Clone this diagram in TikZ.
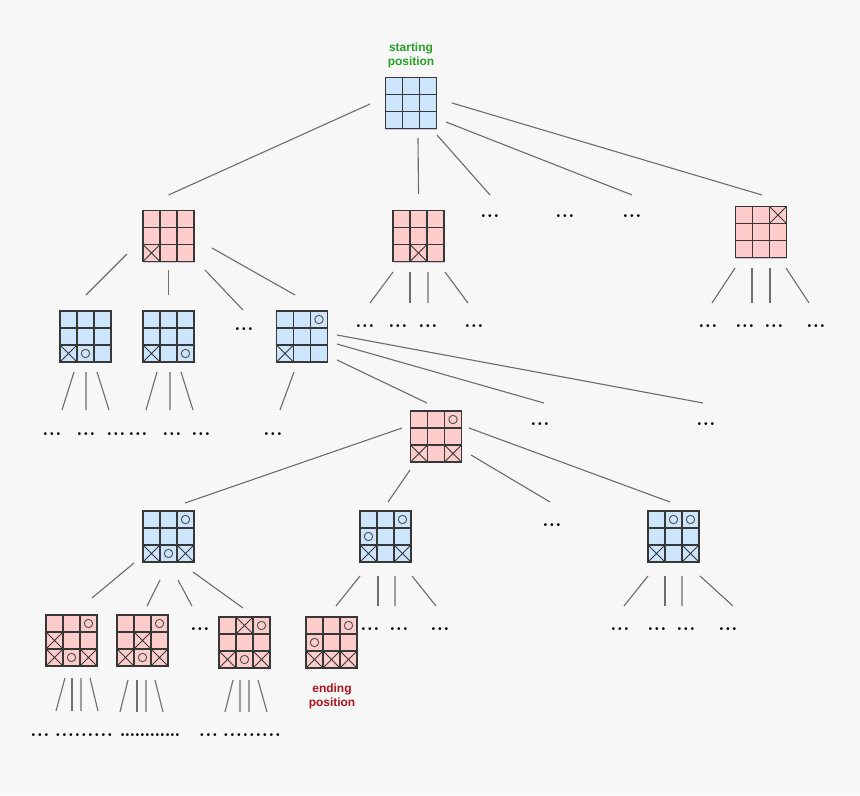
\documentclass[tikz,border=0pt]{standalone}
\usepackage{fontspec}
\newfontfamily\labelfont{Liberation Sans}
\usetikzlibrary{calc,shadows}

\definecolor{bgcol}{RGB}{247,247,247}
\definecolor{bluefill}{RGB}{204,228,252}
\definecolor{redfill}{RGB}{255,204,204}
\definecolor{gridcol}{RGB}{55,55,55}
\definecolor{edgecol}{RGB}{110,110,110}
\definecolor{startgreen}{RGB}{40,160,40}
\definecolor{endred}{RGB}{170,20,30}

\tikzset{
    % --- 3x3 board (one game position) ---
    board/.style = {
        rectangle, draw=gridcol, line width=0.9pt,
        minimum size=1.275cm, inner sep=0pt, outer sep=0pt,
        drop shadow={shadow xshift=0.6pt, shadow yshift=-1pt,
                     opacity=0.18, fill=black!50!blue}
    },
    blue board/.style = {board, fill=bluefill},
    red board/.style = {board, fill=redfill},
    % --- inner lines of a board ---
    cell line/.style = {draw=gridcol, line width=0.9pt},
    % --- X and O marks ---
    x line/.style = {draw=gridcol, line width=0.6pt},
    o line/.style = {draw=black!65, line width=0.7pt},
    % --- tree connector ---
    link line/.style = {draw=edgecol, line width=0.8pt},
    % --- "more moves" dots ---
    dots/.style = {font=\bfseries\fontsize{14}{14}\selectfont, inner sep=0pt},
    % --- coloured caption ---
    caption/.style = {font=\labelfont\bfseries\fontsize{8.5}{10}\selectfont,
                      align=center}
}

% three evenly spaced dots (optional pitch)
\newcommand\more[1][4.6pt]{\makebox[#1]{.}\makebox[#1]{.}\makebox[#1]{.}}

% board: name, centre, style
\newcommand\board[3]{%
    \node[#3] (#1) at (#2) {};
    \foreach \i in {1,2} {
        \draw[cell line] ([shift={(\i*17,0)}]#1.north west) -- ([shift={(\i*17,0)}]#1.south west);
        \draw[cell line] ([shift={(0,\i*17)}]#1.north west) -- ([shift={(0,\i*17)}]#1.north east);
    }
}
% marks: board, list of col/row
\newcommand\putX[2]{%
    \foreach \col/\row in {#2} {
        \draw[x line] ([shift={({(\col-1)*17},{(\row-1)*17})}]#1.north west) -- ++(17,17)
                      ([shift={({\col*17},{(\row-1)*17})}]#1.north west) -- ++(-17,17);
    }
}
\newcommand\putO[2]{%
    \foreach \col/\row in {#2} {
        \draw[o line] ([shift={({(\col-0.5)*17},{(\row-0.5)*17})}]#1.north west) circle[radius=0.105cm];
    }
}
% connector: parent, offset, child, offset
\newcommand\link[4]{\draw[link line] ([shift={(#2)}]#1.center) -- ([shift={(#4)}]#3.center);}

\begin{document}
\begin{tikzpicture}[x=0.025cm, y=-0.025cm]

\fill[bgcol] (0,0) rectangle (860,795);
\useasboundingbox (0,0) rectangle (860,795);

% ---------------------------------------------------------
% Boards
% ---------------------------------------------------------
\board{R}{411,103}{blue board}

\board{A}{168.5,236}{red board}     \putX{A}{1/3}
\board{B}{418.5,236}{red board}     \putX{B}{2/3}
\board{C}{761,232}{red board}       \putX{C}{3/1}

\board{A1}{85.5,336.5}{blue board}  \putX{A1}{1/3} \putO{A1}{2/3}
\board{A2}{168.5,336.5}{blue board} \putX{A2}{1/3} \putO{A2}{3/3}
\board{A3}{302,336.5}{blue board}   \putX{A3}{1/3} \putO{A3}{3/1}

\board{D}{436,436.5}{red board}     \putX{D}{1/3,3/3} \putO{D}{3/1}

\board{E}{168.5,536.5}{blue board}  \putX{E}{1/3,3/3} \putO{E}{3/1,2/3}
\board{F}{385.5,536.5}{blue board}  \putX{F}{1/3,3/3} \putO{F}{3/1,1/2}
\board{G}{673.5,536.5}{blue board}  \putX{G}{1/3,3/3} \putO{G}{2/1,3/1}

\board{H}{71.5,640.5}{red board}    \putX{H}{1/2,1/3,3/3} \putO{H}{3/1,2/3}
\board{I}{142.5,640.5}{red board}   \putX{I}{2/2,1/3,3/3} \putO{I}{3/1,2/3}
\board{J}{244.5,642.5}{red board}   \putX{J}{2/1,1/3,3/3} \putO{J}{3/1,2/3}
\board{K}{331.5,642.5}{red board}   \putX{K}{1/3,2/3,3/3} \putO{K}{3/1,1/2}

% captions
\node[caption, text=startgreen] (startlbl) at (411,55) {starting\\position};
\node[caption, text=endred] (endlbl) at (332,696) {ending\\position};

% ---------------------------------------------------------
% Dots for the moves not shown
% ---------------------------------------------------------
\foreach \n/\x/\y in {dR1/490/216, dR2/565/216, dR3/632/216,
                      dA/244/329,
                      dB1/365/326, dB2/398/326, dB3/428/326, dB4/474/326,
                      dC1/708/326, dC2/745/326, dC3/774/326, dC4/816/326,
                      a1/52/434, a2/86/434, a3/116/434,
                      b1/138/434, b2/172/434, b3/201/434,
                      dA3a/273/434, dA3b/540/424, dA3c/706/424,
                      dD/552/525,
                      dE/200/629,
                      dF1/370/629, dF2/399/629, dF3/440/629,
                      dG1/620/629, dG2/657/629, dG3/686/629, dG4/728/629,
                      h1/40/735, h2/64.5/735, h3/84/735, h4/103.5/735,
                      j1/208.5/735, j2/232.5/735, j3/252/735, j4/271.5/735}
    \node[dots] (\n) at (\x,\y) {\more};
% packed row below the middle red board
\foreach \n/\x in {i1/127.5, i2/142.5, i3/157.5, i4/172.5}
    \node[dots] (\n) at (\x,735) {\more[3.5pt]};

% ---------------------------------------------------------
% Connectors
% ---------------------------------------------------------
\link{R}{-41,1}{A}{0,-41}
\link{R}{7,35}{B}{0,-42}
\link{R}{26,32}{dR1}{0,-21}
\link{R}{35,19}{dR3}{0,-21}
\link{R}{41,0}{C}{1,-37}

\link{A}{-41.5,18}{A1}{0.5,-41.5}
\link{A}{0,34}{A2}{0,-41.5}
\link{A}{36.5,34}{dA}{-1,-19}
\link{A}{43.5,12}{A3}{-7,-41.5}

\link{B}{-25.5,36}{dB1}{5,-23}
\link{B}{-8.5,36}{dB2}{12,-23}
\link{B}{9.5,36}{dB3}{0,-23}
\link{B}{26.5,36}{dB4}{-6,-23}

\link{C}{-26,36}{dC1}{4,-23}
\link{C}{-9,36}{dC2}{7,-23}
\link{C}{9,36}{dC3}{-4,-23}
\link{C}{25,36}{dC4}{-7,-23}

\link{A1}{-11.5,35.5}{a1}{10,-24}
\link{A1}{0.5,35.5}{a2}{0,-24}
\link{A1}{11.5,35.5}{a3}{-7,-24}
\link{A2}{-11.5,35.5}{b1}{8,-24}
\link{A2}{1.5,35.5}{b2}{-2,-24}
\link{A2}{12.5,35.5}{b3}{-8,-24}

\link{A3}{-8,35.5}{dA3a}{7,-24}
\link{A3}{35,23.5}{D}{-9,-33.5}
\link{A3}{35,7.5}{dA3b}{4,-21}
\link{A3}{35,-1.5}{dA3c}{-3,-21}

\link{D}{-34,-8.5}{E}{16.5,-33.5}
\link{D}{-26,33.5}{F}{2.5,-34.5}
\link{D}{35,18.5}{dD}{-2,-23}
\link{D}{33,-8.5}{G}{-3.5,-34.5}

\link{E}{-34.5,26.5}{H}{20.5,-42.5}
\link{E}{-8.5,43.5}{I}{4.5,-34.5}
\link{E}{9.5,43.5}{dE}{-8,-23}
\link{E}{24.5,35.5}{J}{-1.5,-34.5}

\link{F}{-25.5,39.5}{K}{4.5,-36.5}
\link{F}{-7.5,39.5}{dF1}{8,-23}
\link{F}{9.5,39.5}{dF2}{-4,-23}
\link{F}{26.5,39.5}{dF3}{-4,-23}

\link{G}{-25.5,39.5}{dG1}{4,-23}
\link{G}{-8.5,39.5}{dG2}{8,-23}
\link{G}{8.5,39.5}{dG3}{-4,-23}
\link{G}{26.5,39.5}{dG4}{5,-23}

\link{H}{-6.5,37.5}{h1}{16,-24}
\link{H}{0.5,37.5}{h2}{7.5,-24}
\link{H}{9.5,37.5}{h3}{-3,-24}
\link{H}{18.5,37.5}{h4}{-5.5,-24}

\link{I}{-14.5,39.5}{i1}{-7.5,-23}
\link{I}{-5.5,39.5}{i2}{-5.5,-23}
\link{I}{3.5,39.5}{i3}{-11.5,-23}
\link{I}{12.5,39.5}{i4}{-9.5,-23}

\link{J}{-11.5,37.5}{j1}{16.5,-23}
\link{J}{-4.5,37.5}{j2}{7.5,-23}
\link{J}{4.5,37.5}{j3}{-3,-23}
\link{J}{13.5,37.5}{j4}{-4.5,-23}

\end{tikzpicture}
\end{document}
